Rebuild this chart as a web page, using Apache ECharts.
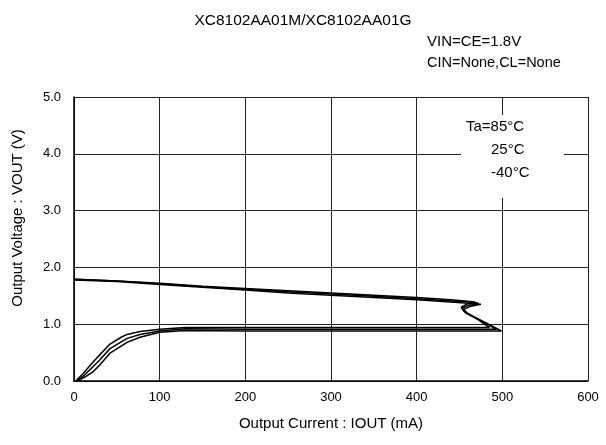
<!DOCTYPE html>
<html>
<head>
<meta charset="utf-8">
<script src="https://cdn.jsdelivr.net/npm/echarts@6/dist/echarts.min.js"></script>
<style>
  html, body { margin: 0; padding: 0; background: #fff; }
  #chart { width: 606px; height: 445px; }
</style>
</head>
<body>
<div id="chart"></div>
<script>
// Ta = 85C
var cur85  = [0, 50, 100, 150, 200, 250, 300, 350, 400, 440, 462, 468, 458, 452, 455, 470, 485, 400, 300, 200, 130, 100, 77, 62, 55, 42, 30, 22, 10, 2];
var volt85 = [1.79, 1.76, 1.72, 1.67, 1.63, 1.59, 1.55, 1.51, 1.47, 1.43, 1.40, 1.39, 1.35, 1.30, 1.23, 1.10, 0.94, 0.94, 0.94, 0.94, 0.94, 0.91, 0.87, 0.82, 0.77, 0.65, 0.46, 0.33, 0.12, 0.0];
// Ta = 25C
var cur25  = [0, 50, 100, 150, 200, 250, 300, 350, 400, 440, 465, 472, 460, 453, 457, 475, 493, 400, 300, 200, 130, 100, 77, 62, 42, 30, 22, 12, 3];
var volt25 = [1.79, 1.76, 1.71, 1.66, 1.61, 1.57, 1.53, 1.49, 1.45, 1.41, 1.39, 1.37, 1.33, 1.28, 1.20, 1.06, 0.91, 0.91, 0.91, 0.91, 0.92, 0.88, 0.82, 0.75, 0.57, 0.37, 0.25, 0.10, 0.0];
// Ta = -40C
var curM40  = [0, 50, 100, 150, 200, 250, 300, 350, 400, 440, 468, 475, 462, 455, 460, 480, 499, 400, 300, 200, 130, 100, 77, 62, 42, 30, 22, 14, 4];
var voltM40 = [1.78, 1.75, 1.70, 1.65, 1.60, 1.55, 1.51, 1.47, 1.43, 1.39, 1.36, 1.35, 1.31, 1.26, 1.18, 1.03, 0.88, 0.88, 0.88, 0.88, 0.89, 0.86, 0.77, 0.68, 0.49, 0.28, 0.16, 0.08, 0.0];

var xTicks = [0, 100, 200, 300, 400, 500, 600];
var yTicks = ['0.0', '1.0', '2.0', '3.0', '4.0', '5.0'];
var legendLabels = ['Ta=85°C', '25°C', '-40°C'];

function pairs(xs, ys) {
  return xs.map(function (x, i) { return [x, ys[i]]; });
}

var font = 'Liberation Sans, Arial, sans-serif';
var myChart = echarts.init(document.getElementById('chart'));

function curve(name, xs, ys) {
  return {
    name: name,
    type: 'line',
    data: pairs(xs, ys),
    showSymbol: false,
    smooth: false,
    lineStyle: { color: '#000', width: 1.5 },
    animation: false,
    z: 3
  };
}

function label(text, x, y, size, align) {
  return {
    type: 'text', x: x, y: y, z: 11,
    style: { text: text, fill: '#000', font: size + 'px ' + font, textAlign: align || 'left', textVerticalAlign: 'middle' }
  };
}

var option = {
  backgroundColor: '#fff',
  animation: false,
  grid: { left: 74, right: 18, top: 97, bottom: 64, containLabel: false, outerBoundsMode: 'none' },
  xAxis: {
    type: 'value',
    min: xTicks[0],
    max: xTicks[xTicks.length - 1],
    interval: 100,
    axisLine: { show: true, lineStyle: { color: '#000', width: 1.5 } },
    axisTick: { show: false },
    axisLabel: { color: '#000', fontFamily: font, fontSize: 13, margin: 10 },
    splitLine: { show: true, lineStyle: { color: '#222', width: 1 } }
  },
  yAxis: {
    type: 'value',
    min: 0,
    max: 5,
    interval: 1,
    axisLine: { show: true, lineStyle: { color: '#000', width: 1.5 } },
    axisTick: { show: false },
    axisLabel: {
      color: '#000', fontFamily: font, fontSize: 13, margin: 13,
      formatter: function (v) { return yTicks[Math.round(v)]; }
    },
    splitLine: { show: true, lineStyle: { color: '#222', width: 1 } }
  },
  series: [
    curve(legendLabels[0], cur85, volt85),
    curve(legendLabels[1], cur25, volt25),
    curve(legendLabels[2], curM40, voltM40)
  ],
  graphic: [
    { type: 'rect', shape: { x: 461, y: 115, width: 103, height: 83 }, style: { fill: '#fff' }, z: 10 },
    label('XC8102AA01M/XC8102AA01G', 303, 21, 15.5, 'center'),
    label('VIN=CE=1.8V', 427, 42, 15),
    label('CIN=None,CL=None', 427, 63, 14.5),
    label(legendLabels[0], 466, 127, 15),
    label(legendLabels[1], 491, 150, 15),
    label(legendLabels[2], 491, 173, 15),
    label('Output Current : IOUT (mA)', 331, 424, 15, 'center'),
    {
      type: 'text', x: 18, y: 218, rotation: Math.PI / 2, z: 11,
      style: { text: 'Output Voltage : VOUT (V)', fill: '#000', font: '15px ' + font, textAlign: 'center', textVerticalAlign: 'middle' }
    }
  ]
};
myChart.setOption(option);
</script>
</body>
</html>
